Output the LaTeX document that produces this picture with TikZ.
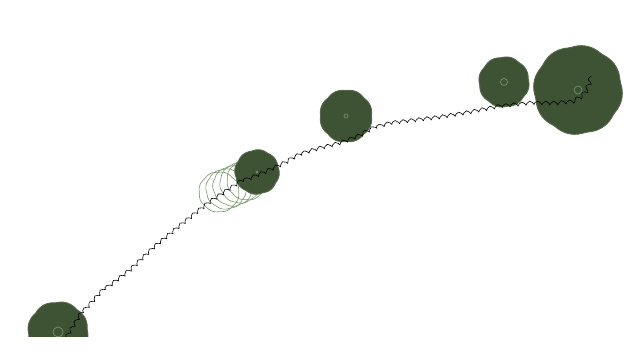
\documentclass[tikz,border=0pt]{standalone}
\usetikzlibrary{decorations.pathmorphing}
\definecolor{treegreen}{RGB}{62,82,52}
\definecolor{treeedge}{RGB}{84,104,74}
\definecolor{trailgreen}{RGB}{120,152,105}
\definecolor{markgreen}{RGB}{125,155,110}
\tikzset{
  tree/.style={fill=treegreen, draw=treeedge, line width=0.9pt},
  ghost/.style={draw=trailgreen, line width=0.6pt},
  centermark/.style={draw=markgreen, line width=0.6pt},
  trail/.style={draw=black, line width=0.6pt, decorate,
    decoration={coil, aspect=0.45, amplitude=1.8pt, segment length=8pt}}
}
% scalloped blob: style, cx, cy, r, phase
\newcommand\myblob[5]{%
  \path[#1] plot[smooth cycle, samples=80, domain=0:355.5, variable=\t]
    ({#2+#4*(0.975+0.04*abs(sin(4*\t+#5)))*cos(\t)}, {#3+#4*(0.975+0.04*abs(sin(4*\t+#5)))*sin(\t)});}
\begin{document}
\begin{tikzpicture}[x=1pt,y=-1pt]
\useasboundingbox (0,0) rectangle (637,361);
\begin{scope}
\clip (0,0) rectangle (637,336);
% tree positions
\coordinate (t1) at (58,332);
\coordinate (t2) at (257,172);
\coordinate (t3) at (346,116);
\coordinate (t4) at (504,82);
\coordinate (t5) at (578,90);
% ghost trail
\myblob{ghost}{219}{192}{20}{10}
\myblob{ghost}{226}{189}{20}{50}
\myblob{ghost}{233}{186}{20}{90}
\myblob{ghost}{240}{183}{20}{130}
\myblob{ghost}{247}{180}{20}{170}
% trees
\myblob{tree}{58}{332}{30}{20}
\myblob{tree}{257}{172}{22}{60}
\myblob{tree}{346}{116}{26}{0}
\myblob{tree}{504}{82}{25}{30}
\myblob{tree}{578}{90}{44}{45}
% marks
\draw[centermark] (t1) circle (5);
\draw[centermark] (t2) circle (1);
\draw[centermark] (t3) circle (2);
\draw[centermark] (t4) circle (3.5);
\draw[centermark] (t5) circle (4);
% trail
\draw[trail] (66,338) -- (80,315) -- (100,293) -- (130,270) -- (153,248) -- (183,223) -- (208,203) -- (238,183) -- (265,172) -- (282,164) -- (300,154) -- (320,148) -- (340,143) -- (358,136) -- (373,128) -- (390,123) -- (415,120) -- (440,117) -- (470,112) -- (500,106) -- (530,103) -- (555,103) -- (567,102) -- (576,99) -- (583,94) -- (588,86) -- (591,76);
\end{scope}
\end{tikzpicture}
\end{document}
